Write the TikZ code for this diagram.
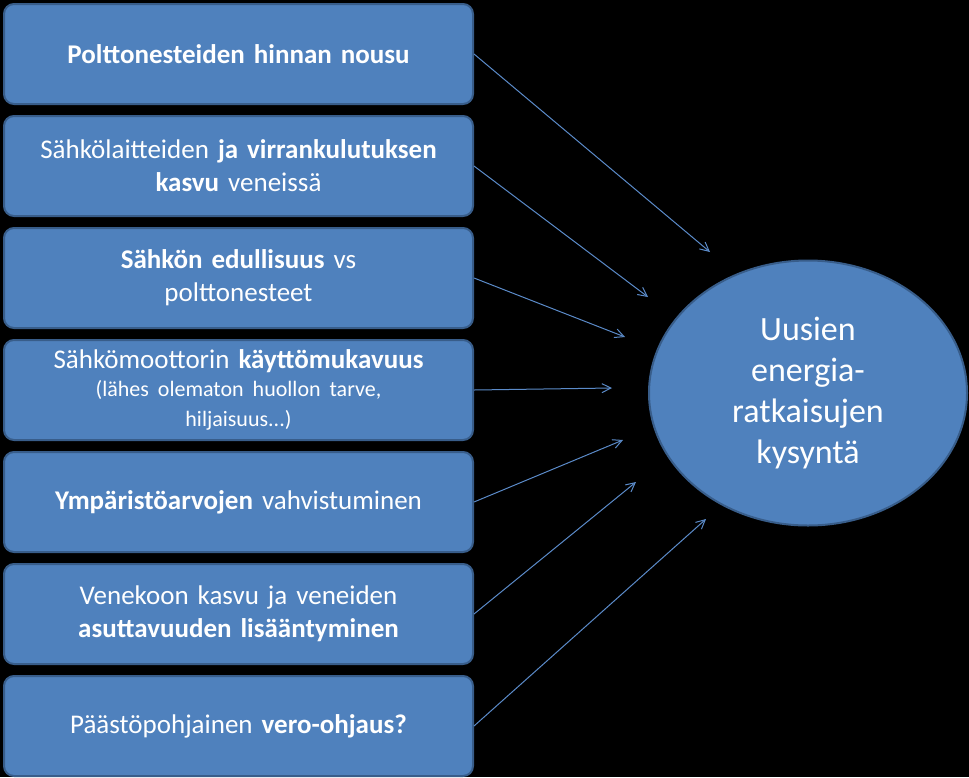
\documentclass[tikz,border=0pt]{standalone}
\usepackage{fontspec}
\setmainfont{Carlito}
\usetikzlibrary{arrows.meta,shapes.geometric}
\definecolor{boxblue}{HTML}{4F81BD}
\definecolor{edgeblue}{HTML}{385D8A}
\definecolor{arrblue}{HTML}{5B8BC9}
\begin{document}
\begin{tikzpicture}[x=1pt,y=-1pt,
  cause/.style={draw=edgeblue,line width=2pt,fill=boxblue,rounded corners=10pt,minimum width=469pt,minimum height=100pt,text width=450pt,align=center,text=white,font=\fontsize{27}{33}\selectfont,anchor=north west},
  goal/.style={draw=edgeblue,line width=2pt,fill=boxblue,ellipse,minimum width=318pt,minimum height=265pt,text=white,align=center,font=\fontsize{34}{41}\selectfont},
  arr/.style={draw=arrblue,line width=1pt,-{Straight Barb[length=9pt,width=9pt]}}]
\fill[black] (0,0) rectangle (969,777);
\node[cause] (b1) at (3,3) {\textbf{Polttonesteiden hinnan nousu}};
\node[cause] (b2) at (3,115) {Sähkölaitteiden \textbf{ja virrankulutuksen}\\\textbf{kasvu} veneissä};
\node[cause] (b3) at (3,227) {\textbf{Sähkön edullisuus} vs\\polttonesteet};
\node[cause,font=\fontsize{27}{30}\selectfont] (b4) at (3,339) {Sähkömoottorin \textbf{käyttömukavuus}\\{\fontsize{22}{28}\selectfont (lähes olematon huollon tarve,\\hiljaisuus...)}};
\node[cause] (b5) at (3,451) {\textbf{Ympäristöarvojen} vahvistuminen};
\node[cause] (b6) at (3,563) {Venekoon kasvu ja veneiden\\\textbf{asuttavuuden lisääntyminen}};
\node[cause] (b7) at (3,675) {Päästöpohjainen \textbf{vero-ohjaus?}};
\node[goal] (g) at (808,393) {Uusien\\energia-\\ratkaisujen\\kysyntä};
\coordinate (e1) at (710,252);
\coordinate (e2) at (648,297);
\coordinate (e3) at (625,337);
\coordinate (e4) at (612,388);
\coordinate (e5) at (623,440);
\coordinate (e6) at (636,482);
\coordinate (e7) at (706,519);
\draw[arr] (b1.east) -- (e1);
\draw[arr] (b2.east) -- (e2);
\draw[arr] (b3.east) -- (e3);
\draw[arr] (b4.east) -- (e4);
\draw[arr] (b5.east) -- (e5);
\draw[arr] (b6.east) -- (e6);
\draw[arr] (b7.east) -- (e7);
\end{tikzpicture}
\end{document}
